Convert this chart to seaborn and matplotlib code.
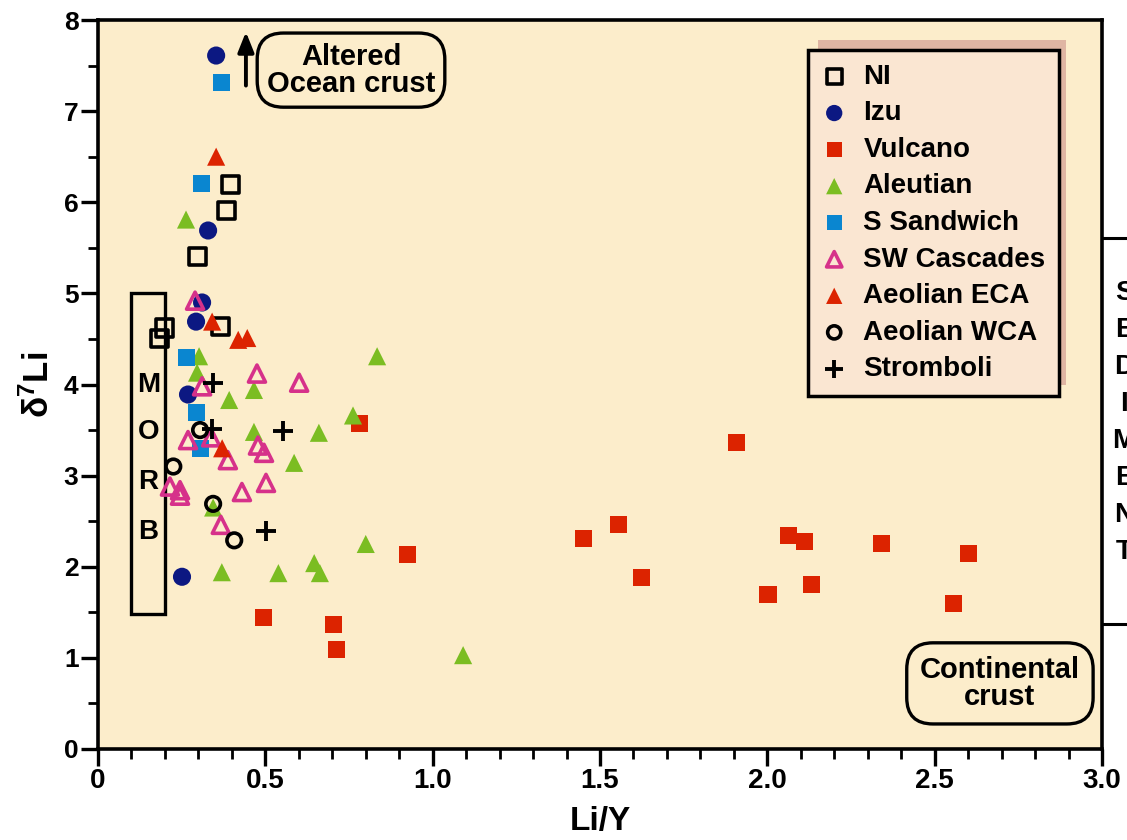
import matplotlib
matplotlib.use("Agg")
import matplotlib.pyplot as plt
import matplotlib.patches as mpatches
from matplotlib.lines import Line2D
from matplotlib import font_manager
from matplotlib.ticker import MultipleLocator
import pandas as pd
import seaborn as sns

# data (Li/Y vs d7Li)
groups = ["NI", "Izu", "Vulcano", "Aleutian", "S Sandwich", "SW Cascades",
          "Aeolian ECA", "Aeolian WCA", "Stromboli"]

ni_x = [0.395, 0.385, 0.296, 0.365, 0.200, 0.185]
ni_y = [6.20, 5.91, 5.40, 4.64, 4.62, 4.51]

izu_x = [0.353, 0.329, 0.311, 0.293, 0.269, 0.251]
izu_y = [7.61, 5.69, 4.90, 4.69, 3.89, 1.89]

vulcano_x = [0.780, 0.926, 0.496, 0.705, 0.714, 1.452, 1.554, 1.625, 1.909,
             2.002, 2.062, 2.112, 2.133, 2.342, 2.555, 2.602]
vulcano_y = [3.57, 2.13, 1.44, 1.37, 1.09, 2.31, 2.46, 1.88, 3.36,
             1.70, 2.34, 2.28, 1.80, 2.25, 1.60, 2.15]

aleutian_x = [0.263, 0.302, 0.296, 0.392, 0.466, 0.466, 0.344, 0.370, 0.539,
              0.660, 0.586, 0.834, 0.762, 0.800, 0.646, 0.663, 1.091]
aleutian_y = [5.81, 4.31, 4.13, 3.83, 3.94, 3.48, 2.65, 1.94, 1.93,
              3.47, 3.14, 4.31, 3.66, 2.25, 2.04, 1.93, 1.03]

ssandwich_x = [0.368, 0.308, 0.263, 0.293, 0.305]
ssandwich_y = [7.31, 6.21, 4.30, 3.69, 3.30]

swcascades_x = [0.290, 0.311, 0.475, 0.601, 0.269, 0.338, 0.388, 0.478,
                0.496, 0.502, 0.430, 0.367, 0.215, 0.245, 0.245]
swcascades_y = [4.92, 3.98, 4.12, 4.02, 3.39, 3.42, 3.17, 3.33,
                3.25, 2.92, 2.82, 2.46, 2.88, 2.84, 2.78]

eca_x = [0.353, 0.341, 0.419, 0.446, 0.371]
eca_y = [6.50, 4.69, 4.49, 4.51, 3.30]

wca_x = [0.225, 0.305, 0.344, 0.407]
wca_y = [3.10, 3.50, 2.69, 2.29]

stromboli_x = [0.344, 0.341, 0.553, 0.502]
stromboli_y = [4.02, 3.51, 3.49, 2.39]

xs = [ni_x, izu_x, vulcano_x, aleutian_x, ssandwich_x, swcascades_x, eca_x, wca_x, stromboli_x]
ys = [ni_y, izu_y, vulcano_y, aleutian_y, ssandwich_y, swcascades_y, eca_y, wca_y, stromboli_y]

df = pd.concat([pd.DataFrame({"LiY": x, "d7Li": y, "group": g})
                for g, x, y in zip(groups, xs, ys)], ignore_index=True)

# marker styles: (marker, colour, open?, size, linewidth)
styles = {
    "NI":          ("s", "black",   True,  150, 2.6),
    "Izu":         ("o", "#0c1882", False, 170, 0),
    "Vulcano":     ("s", "#dc2300", False, 150, 0),
    "Aleutian":    ("^", "#7bbd22", False, 170, 0),
    "S Sandwich":  ("s", "#0a86d0", False, 150, 0),
    "SW Cascades": ("^", "#d6318a", True,  150, 2.6),
    "Aeolian ECA": ("^", "#dc2300", False, 170, 0),
    "Aeolian WCA": ("o", "black",   True,  110, 2.6),
    "Stromboli":   ("+", "black",   False, 200, 2.8),
}

sns.set_theme(style="ticks")
names = {f.name for f in font_manager.fontManager.ttflist}
narrow = "Liberation Sans Narrow" if "Liberation Sans Narrow" in names else "Liberation Sans"
plt.rcParams["font.family"] = ["Liberation Sans", "DejaVu Sans"]
plt.rcParams["font.weight"] = "bold"
plt.rcParams["text.color"] = "black"
plt.rcParams["axes.labelcolor"] = "black"
plt.rcParams["xtick.color"] = "black"
plt.rcParams["ytick.color"] = "black"
plt.rcParams["mathtext.fontset"] = "custom"
plt.rcParams["mathtext.bf"] = "Liberation Sans:bold"
plt.rcParams["mathtext.rm"] = "Liberation Sans:bold"
plt.rcParams["mathtext.default"] = "bf"

fig = plt.figure(figsize=(11.27, 8.40), dpi=100)
ax = fig.add_axes([98 / 1127, 1 - 749 / 840, 1004 / 1127, 729 / 840])
ax.set_facecolor("#fcedcb")

for g in groups:
    m, col, hollow, s, lw = styles[g]
    sub = df[df.group == g]
    if m == "+":
        sns.scatterplot(data=sub, x="LiY", y="d7Li", ax=ax, marker=m, s=s,
                        color=col, linewidth=lw, label=g, zorder=3)
    elif hollow:
        sns.scatterplot(data=sub, x="LiY", y="d7Li", ax=ax, marker=m, s=s,
                        color=col, facecolor="none", edgecolor=col,
                        linewidth=lw, label=g, zorder=3)
    else:
        sns.scatterplot(data=sub, x="LiY", y="d7Li", ax=ax, marker=m, s=s,
                        color=col, edgecolor="none", linewidth=0, label=g, zorder=3)

ax.set_xlim(0, 3.0)
ax.set_ylim(0, 8)
ax.xaxis.set_major_locator(MultipleLocator(0.5))
ax.xaxis.set_minor_locator(MultipleLocator(0.1))
ax.yaxis.set_major_locator(MultipleLocator(1))
ax.yaxis.set_minor_locator(MultipleLocator(0.5))
ax.set_xticks([0, 0.5, 1.0, 1.5, 2.0, 2.5, 3.0])
ax.set_xticklabels(["0", "0.5", "1.0", "1.5", "2.0", "2.5", "3.0"])
for lab in ax.get_xticklabels():
    lab.set_family(narrow)
    lab.set_fontsize(20)
    lab.set_weight("bold")
for lab in ax.get_yticklabels():
    lab.set_fontsize(19)
    lab.set_weight("bold")
ax.tick_params(axis="both", which="major", length=12, width=2.4, color="black", pad=2)
ax.tick_params(axis="both", which="minor", length=7, width=2.0, color="black")
for sp in ax.spines.values():
    sp.set_linewidth(2.6)
    sp.set_color("black")

ax.set_xlabel("Li/Y", family=narrow, fontsize=24, weight="bold", labelpad=8)
ax.set_ylabel("δ$^{7}$Li", fontsize=25, weight="bold", labelpad=6)

# legend with offset shadow
ax.add_patch(mpatches.Rectangle((0.717, 0.499), 0.247, 0.474, transform=ax.transAxes,
                                facecolor="#dfb5a3", edgecolor="none", zorder=4))
leg = ax.legend(loc="upper left", bbox_to_anchor=(0.707, 0.959), borderaxespad=0,
                fontsize=20, frameon=True, fancybox=False, framealpha=1,
                facecolor="#fae6d2", edgecolor="black", markerscale=0.9,
                handlelength=0.9, handletextpad=0.6, labelspacing=0.38,
                borderpad=0.5)
leg.get_frame().set_linewidth(2.5)
leg.set_zorder(5)
for t in leg.get_texts():
    t.set_weight("bold")
    t.set_color("black")

# MORB box
ax.add_patch(mpatches.Rectangle((0.10, 1.48), 0.10, 3.52, facecolor="none",
                                edgecolor="black", linewidth=2.4, zorder=2))
for letter, yy in zip("MORB", [4.0, 3.48, 2.93, 2.38]):
    ax.text(0.15, yy, letter, ha="center", va="center", fontsize=20,
            weight="bold", zorder=2)

# annotation boxes
ax.text(0.756, 7.45, "Altered\nOcean crust", ha="center", va="center",
        family=narrow, fontsize=21, weight="bold", linespacing=0.95,
        bbox=dict(boxstyle="round,pad=0.33,rounding_size=0.9", facecolor="none",
                  edgecolor="black", linewidth=2.4))
ax.annotate("", xy=(0.442, 7.90), xytext=(0.442, 7.25),
            arrowprops=dict(arrowstyle="-|>,head_length=1.0,head_width=0.4",
                            color="black", lw=2.8))
ax.text(2.695, 0.72, "Continental\ncrust", ha="center", va="center",
        family=narrow, fontsize=21, weight="bold", linespacing=0.95,
        bbox=dict(boxstyle="round,pad=0.45,rounding_size=0.9", facecolor="none",
                  edgecolor="black", linewidth=2.4))

# sediment box partly outside the plot on the right (cut off as in the original)
for yy in [238, 624]:
    fig.add_artist(Line2D([1102 / 1127, 1.0], [1 - yy / 840, 1 - yy / 840],
                          color="black", linewidth=2.2))
for i, letter in enumerate("SEDIMENT"):
    fig.text(1124 / 1127, 1 - (293 + 37 * i) / 840, letter, ha="center",
             va="center", fontsize=20, weight="bold")

fig.savefig("out.png", dpi=100)
